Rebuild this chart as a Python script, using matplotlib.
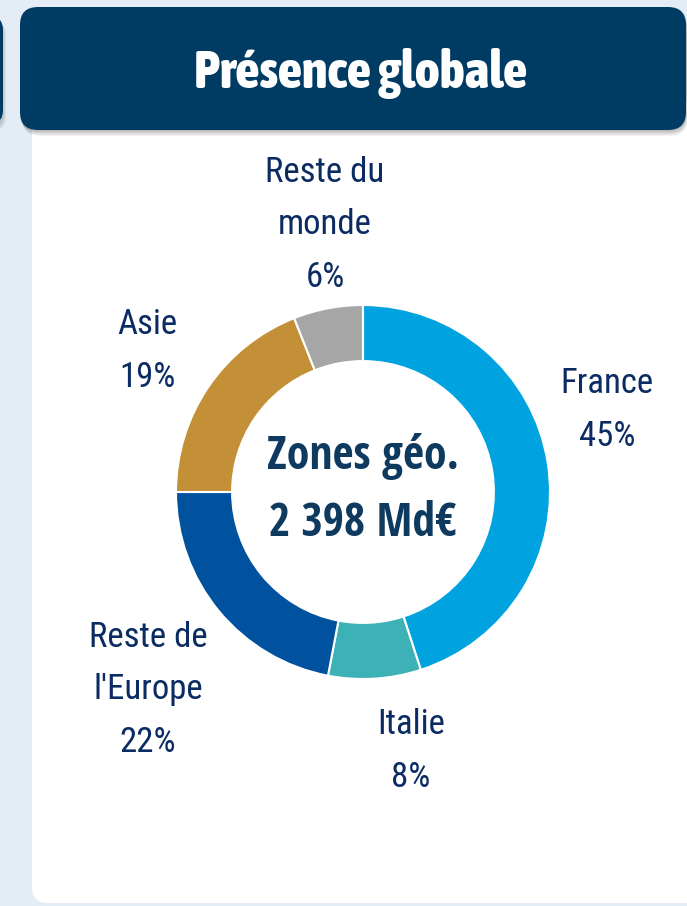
import matplotlib.pyplot as plt
from matplotlib import font_manager as fm
from matplotlib.patches import FancyBboxPatch

# données du graphique
zones = ['France', 'Italie', "Reste de\nl'Europe", 'Asie', 'Reste du\nmonde']
parts = [45, 8, 22, 19, 6]
couleurs = ['#00a3e0', '#3cb2b6', '#00519e', '#c39037', '#a6a6a6']
titre = 'Présence globale'
centre_l1 = 'Zones géo.'
centre_l2 = '2 398 Md€'

W, H = 687, 906


def police(cible):
    # cherche une police étroite (condensed / narrow) installée, au poids le plus proche
    ordre = ['open sans', 'noto sans', 'roboto', 'liberation sans', 'dejavu sans']
    meilleurs = []
    for f in fm.fontManager.ttflist:
        nom = (f.name + ' ' + f.fname).lower()
        if '[' in f.fname or 'mono' in nom or 'serif' in f.name.lower() or 'italic' in nom or f.style != 'normal':
            continue
        etroit = ('condensed' in nom or 'narrow' in nom or f.stretch in ('condensed', 'semi-condensed'))
        if not etroit or 'extra' in nom.replace('extrabold', '') or 'ultra' in nom or 'semicondensed' in nom:
            continue
        w = f.weight if isinstance(f.weight, int) else 400
        rang = next((i for i, o in enumerate(ordre) if f.name.lower().startswith(o)), 9)
        meilleurs.append((abs(w - cible), rang, f.fname))
    if meilleurs:
        meilleurs.sort()
        return fm.FontProperties(fname=meilleurs[0][2])
    return fm.FontProperties(family='Noto Sans', weight=cible)


fp_reg = police(400)
fp_bold = police(700)
fp_titre = police(800)

fig = plt.figure(figsize=(W / 100, H / 100), dpi=100)
fig.patch.set_facecolor('#e4ecf5')
ax = fig.add_axes([0, 0, 1, 1])
ax.set_xlim(0, W)
ax.set_ylim(0, H)
ax.set_aspect('equal')
ax.axis('off')


def y(v):
    # coordonnées image (haut=0) -> axes
    return H - v


# carte blanche
ax.add_patch(FancyBboxPatch((32, y(903)), 700, 800, boxstyle='round,pad=0,rounding_size=16',
                            fc='white', ec='none', zorder=1))
# bloc à gauche coupé
for k in range(4):
    ax.add_patch(FancyBboxPatch((-40 + k, y(126) - 2 - k), 43, 110, boxstyle='round,pad=0,rounding_size=14',
                                fc='#000000', ec='none', alpha=0.05, zorder=2))
ax.add_patch(FancyBboxPatch((-40, y(124)), 43, 108, boxstyle='round,pad=0,rounding_size=14',
                            fc='#003b64', ec='none', zorder=3))
# ombre du bandeau
for k in range(5):
    ax.add_patch(FancyBboxPatch((20 + k * 0.5, y(130) - 1 - k * 1.2), 666, 123,
                                boxstyle='round,pad=0,rounding_size=18',
                                fc='#000000', ec='none', alpha=0.06, zorder=2))
ax.add_patch(FancyBboxPatch((20, y(130)), 666, 123, boxstyle='round,pad=0,rounding_size=18',
                            fc='#003b64', ec='none', zorder=3))
ax.text(361, y(88), titre, color='white', fontproperties=fp_titre, fontsize=38,
        ha='center', va='baseline', zorder=4)

# anneau
cx, cy, r = 363, y(492), 187
ax.pie(parts, colors=couleurs, startangle=90, counterclock=False, center=(cx, cy), radius=r,
       wedgeprops=dict(width=r * 0.30, edgecolor='white', linewidth=1.5), frame=True)
ax.set_xlim(0, W)
ax.set_ylim(0, H)
ax.axis('off')

# étiquettes
pos = [(607, 410), (411, 751), (148, 690), (147, 351), (325, 225)]
for nom, p, (lx, ly) in zip(zones, parts, pos):
    ax.text(lx, y(ly), f'{nom}\n{p}%', color='#0b2b63', fontproperties=fp_reg, fontsize=25,
            ha='center', va='center', linespacing=1.75, zorder=5)

ax.text(cx, y(457), centre_l1, color='#0e3a5f', fontproperties=fp_bold, fontsize=33, ha='center', va='center')
ax.text(cx, y(524), centre_l2, color='#0e3a5f', fontproperties=fp_bold, fontsize=33, ha='center', va='center')

fig.savefig('out.png', dpi=100, facecolor=fig.get_facecolor())
